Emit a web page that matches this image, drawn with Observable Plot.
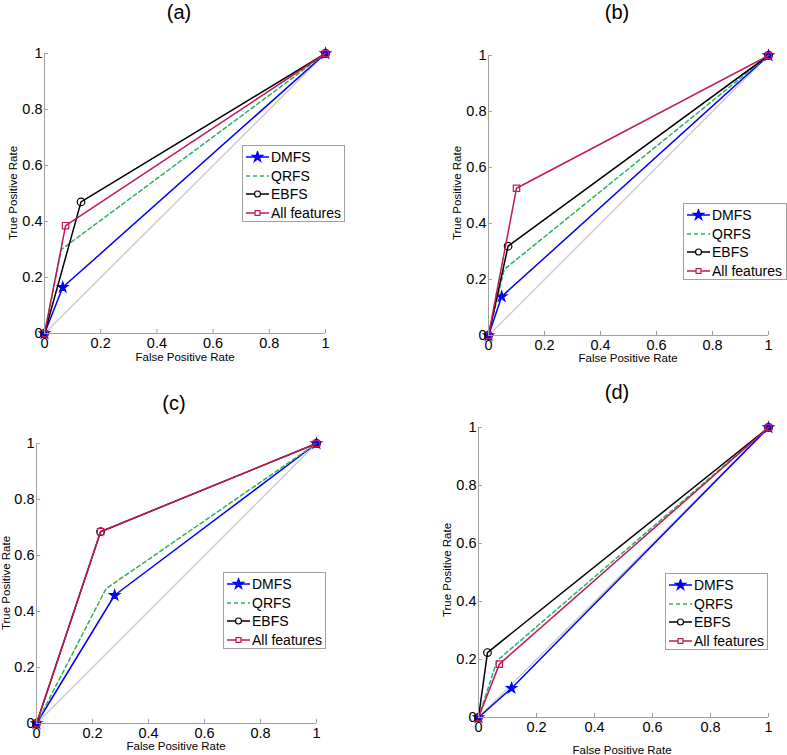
<!DOCTYPE html>
<html><head><meta charset="utf-8">
<script src="https://cdn.jsdelivr.net/npm/d3@7"></script>
<script src="https://cdn.jsdelivr.net/npm/@observablehq/plot@0.6"></script>
<style>
body{margin:0;background:#fff;font-family:Arial,"Liberation Sans",sans-serif;}
#wrap{position:relative;width:787px;height:755px;overflow:hidden;}
.panel{position:absolute;}
.panel svg g[aria-label*="tick label"] text{font-size:14.5px;font-family:Arial,"Liberation Sans",sans-serif;}
.title{position:absolute;font-size:20px;transform:translate(-50%,-50%);white-space:nowrap;color:#000;}
.xlab{position:absolute;font-size:11.5px;transform:translate(-50%,-50%);white-space:nowrap;}
.ylab{position:absolute;font-size:11.5px;transform:translate(-50%,-50%) rotate(-90deg);white-space:nowrap;}
.legend{position:absolute;border:1px solid #a0a0a0;background:#fff;box-sizing:border-box;}
.lrow{position:absolute;left:0;height:18px;display:flex;align-items:center;font-size:14px;white-space:nowrap;}
.lrow svg{margin-left:2px;margin-right:1px;}
</style>
</head><body>
<div id="wrap"></div>
<script>
// ---- data ----
const seriesNames = ["DMFS", "QRFS", "EBFS", "All features"];
const panelTitles = ["(a)", "(b)", "(c)", "(d)"];
const tickValues = [0, 0.2, 0.4, 0.6, 0.8, 1];
const tickLabels = ["0", "0.2", "0.4", "0.6", "0.8", "1"];
const xLabel = "False Positive Rate";
const yLabel = "True Positive Rate";
const chanceFpr = [0, 1];
const chanceTpr = [0, 1];
// per panel: rows in order DMFS, QRFS, EBFS, All features
const fprA = [[0, 0.065, 1], [0, 0.06, 1], [0, 0.13, 1], [0, 0.075, 1]];
const tprA = [[0, 0.165, 1], [0, 0.30, 1], [0, 0.47, 1], [0, 0.385, 1]];
const fprB = [[0, 0.047, 1], [0, 0.056, 1], [0, 0.07, 1], [0, 0.10, 1]];
const tprB = [[0, 0.139, 1], [0, 0.236, 1], [0, 0.319, 1], [0, 0.526, 1]];
const fprC = [[0, 0.279, 1], [0, 0.248, 1], [0, 0.229, 1], [0, 0.229, 1]];
const tprC = [[0, 0.458, 1], [0, 0.481, 1], [0, 0.685, 1], [0, 0.685, 1]];
const fprD = [[0, 0.114, 1], [0, 0.064, 1], [0, 0.031, 1], [0, 0.072, 1]];
const tprD = [[0, 0.101, 1], [0, 0.196, 1], [0, 0.224, 1], [0, 0.184, 1]];

// ---- styles ----
const colors = ["#0000ff", "#2bb25c", "#000000", "#c2185b"];
const dashes = [null, "4,3", null, null];
const symbols = ["star", "circle", "circle", "square"];
const radii = [3.2, 0, 3.8, 3.6];
const filled = [true, false, false, false];

// ---- layout ----
const layout = [
  {left: 0, top: 0, width: 393, height: 370, m: [53, 68, 37, 44], title: [179, 12], xl: [185, 357], yl: [13, 193], lg: [242, 145, 103, 77]},
  {left: 393, top: 0, width: 394, height: 370, m: [55, 19, 35, 95], title: [617, 12], xl: [628, 358], yl: [457, 193], lg: [683, 203, 104, 77]},
  {left: 0, top: 370, width: 393, height: 385, m: [73, 77, 32, 36], title: [174, 403], xl: [176, 746], yl: [6, 583], lg: [223, 572, 103, 77]},
  {left: 393, top: 370, width: 394, height: 385, m: [57, 19, 38, 85], title: [617, 392], xl: [622, 750], yl: [447, 570], lg: [665, 573, 103, 77]}
];
const panelFpr = [fprA, fprB, fprC, fprD];
const panelTpr = [tprA, tprB, tprC, tprD];

const wrap = document.getElementById("wrap");

function fmt(d) { const i = tickValues.indexOf(d); return i >= 0 ? tickLabels[i] : String(d); }

layout.forEach((L, p) => {
  const marks = [];
  marks.push(Plot.line(chanceFpr.map((x, i) => ({x, y: chanceTpr[i]})), {x: "x", y: "y", stroke: "#cccccc", strokeWidth: 1.5}));
  seriesNames.forEach((name, s) => {
    const data = panelFpr[p][s].map((x, i) => ({x, y: panelTpr[p][s][i]}));
    marks.push(Plot.line(data, {x: "x", y: "y", stroke: colors[s], strokeWidth: 1.5, strokeDasharray: dashes[s]}));
    if (radii[s] > 0) {
      marks.push(Plot.dot(data, {x: "x", y: "y", symbol: symbols[s], r: radii[s],
        fill: filled[s] ? colors[s] : "none", stroke: colors[s], strokeWidth: 1.2}));
    }
  });
  marks.push(Plot.ruleY([0], {stroke: "#a0a0a0", strokeWidth: 1}));
  marks.push(Plot.ruleX([0], {stroke: "#a0a0a0", strokeWidth: 1}));
  marks.push(Plot.axisX({ticks: tickValues, tickFormat: fmt, tickSize: -4, tickPadding: 8, stroke: "#a0a0a0", fontSize: 14.5, label: null}));
  marks.push(Plot.axisY({ticks: tickValues, tickFormat: fmt, tickSize: -4, tickPadding: 6, stroke: "#a0a0a0", fontSize: 14.5, label: null}));

  const chart = Plot.plot({
    width: L.width, height: L.height,
    marginTop: L.m[0], marginRight: L.m[1], marginBottom: L.m[2], marginLeft: L.m[3],
    x: {domain: [0, 1]}, y: {domain: [0, 1]},
    style: {fontFamily: "Arial, 'Liberation Sans', sans-serif", fontSize: "14px", background: "transparent", overflow: "visible"},
    marks
  });
  const div = document.createElement("div");
  div.className = "panel";
  div.style.left = L.left + "px"; div.style.top = L.top + "px";
  div.appendChild(chart);
  wrap.appendChild(div);

  const t = document.createElement("div"); t.className = "title"; t.textContent = panelTitles[p];
  t.style.left = L.title[0] + "px"; t.style.top = L.title[1] + "px"; wrap.appendChild(t);
  const xl = document.createElement("div"); xl.className = "xlab"; xl.textContent = xLabel;
  xl.style.left = L.xl[0] + "px"; xl.style.top = L.xl[1] + "px"; wrap.appendChild(xl);
  const yl = document.createElement("div"); yl.className = "ylab"; yl.textContent = yLabel;
  yl.style.left = L.yl[0] + "px"; yl.style.top = L.yl[1] + "px"; wrap.appendChild(yl);

  // legend
  const lg = document.createElement("div"); lg.className = "legend";
  lg.style.left = L.lg[0] + "px"; lg.style.top = L.lg[1] + "px";
  lg.style.width = L.lg[2] + "px"; lg.style.height = L.lg[3] + "px";
  seriesNames.forEach((name, s) => {
    const row = document.createElement("div"); row.className = "lrow";
    row.style.top = (2 + s * 18.6) + "px";
    const svg = d3.create("svg").attr("width", 25).attr("height", 12);
    svg.append("line").attr("x1", 1).attr("x2", 24).attr("y1", 6).attr("y2", 6)
      .attr("stroke", colors[s]).attr("stroke-width", 1.5).attr("stroke-dasharray", dashes[s]);
    if (radii[s] > 0) {
      const sym = symbols[s] === "star" ? d3.symbolStar : symbols[s] === "circle" ? d3.symbolCircle : d3.symbolSquare;
      const size = symbols[s] === "star" ? 34 : symbols[s] === "circle" ? 28 : 24;
      svg.append("path").attr("d", d3.symbol(sym, size)()).attr("transform", "translate(12.5,6)")
        .attr("fill", filled[s] ? colors[s] : "#fff").attr("stroke", colors[s]).attr("stroke-width", 1.2);
    }
    row.appendChild(svg.node());
    const span = document.createElement("span"); span.textContent = name;
    row.appendChild(span);
    lg.appendChild(row);
  });
  wrap.appendChild(lg);
});
</script>
</body></html>
